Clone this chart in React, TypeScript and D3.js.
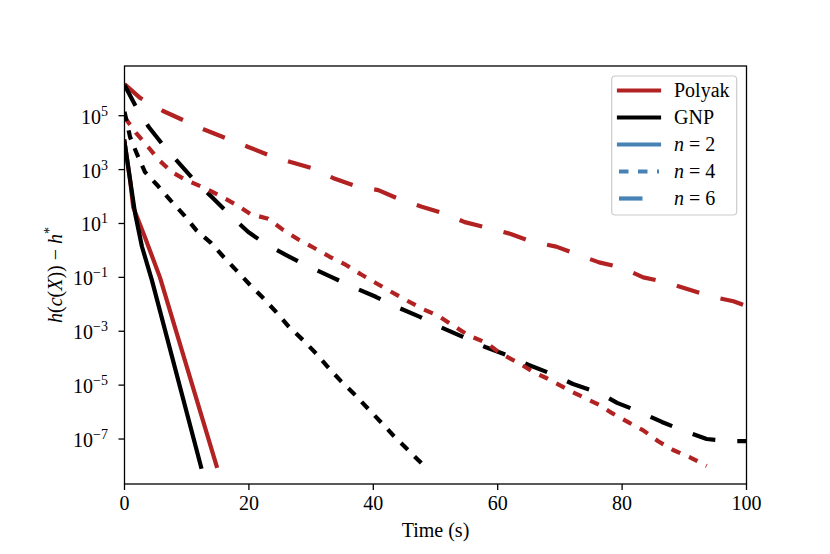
import React from 'react';
import * as d3 from 'd3';

// ---- Data (time in s, value of h(c(X)) - h*) ----
const polyak6T = [0, 2.5, 6.2, 9.4, 12.9, 16.2, 19.9, 23.1, 26.7, 30.3, 33.6, 37.1, 40.8, 44.2, 47.8, 51.3, 54.7, 58.3, 62.1, 65.5, 69.4, 72.7, 76.3, 79.9, 83.4, 87.0, 90.6, 94.1, 97.9, 100];
const polyak6V = [1.48e6, 4.6e5, 1.5e5, 6.9e4, 3.0e4, 1.5e4, 6.9e3, 3.5e3, 1.9e3, 1.1e3, 480, 245, 174, 79, 42, 24, 11.2, 6.9, 4.1, 2.1, 1.38, 0.72, 0.36, 0.23, 0.1, 0.066, 0.036, 0.020, 0.013, 0.0087];

const gnp6T = [0, 1.7, 3.9, 6.2, 8.8, 11.3, 14.2, 17.0, 19.9, 22.9, 26.3, 29.8, 33.4, 36.7, 40.4, 43.8, 47.5, 50.9, 54.4, 58.0, 61.5, 65.0, 68.7, 72.1, 76.4, 79.2, 82.9, 86.4, 89.9, 93.6, 97.5, 100];
const gnp6V = [1.38e6, 2.5e5, 3.8e4, 8.1e3, 1.7e3, 380, 89, 20, 4.8, 1.6, 0.62, 0.24, 0.10, 0.044, 0.019, 7.9e-3, 3.4e-3, 1.4e-3, 6.2e-4, 2.6e-4, 1.3e-4, 5.6e-5, 2.6e-5, 1.1e-5, 5.1e-6, 2.2e-6, 1.0e-6, 4.3e-7, 2.0e-7, 1.0e-7, 8.3e-8, 8.3e-8];

const polyak4T = [0, 1.85, 3.8, 5.5, 7.6, 9.9, 12.8, 15.4, 18.0, 20.3, 23.1, 25.5, 27.9, 30.5, 33.0, 35.6, 38.0, 40.4, 43.0, 45.6, 48.0, 50.2, 53.1, 55.2, 58.3, 60.4, 63.1, 65.7, 67.9, 72.0, 76.4, 78.4, 80.9, 83.4, 85.8, 88.2, 90.9, 93.6];
const polyak4V = [8.9e4, 2.3e4, 6.9e3, 2.3e3, 810, 410, 210, 105, 49, 22, 15, 5.8, 2.6, 1.23, 0.58, 0.29, 0.13, 0.062, 0.028, 0.013, 0.0066, 0.004, 1.5e-3, 7.2e-4, 3.6e-4, 1.5e-4, 7.2e-5, 3.1e-5, 1.8e-5, 5.6e-6, 1.8e-6, 9.1e-7, 4.3e-7, 2.1e-7, 8.3e-8, 3.9e-8, 2.1e-8, 1.0e-8];

const gnp4T = [0, 0.9, 2.0, 3.3, 5.4, 7.5, 9.6, 11.5, 13.9, 15.8, 18.1, 20.2, 22.3, 24.4, 26.4, 28.7, 30.8, 32.7, 34.8, 37.1, 39.2, 41.2, 43.3, 45.6, 48.0];
const gnp4V = [1.4e5, 1.6e4, 3.8e3, 810, 245, 68, 20, 5.8, 1.9, 0.62, 0.17, 0.052, 0.017, 5.1e-3, 1.5e-3, 4.7e-4, 1.5e-4, 4.7e-5, 1.4e-5, 4.3e-6, 1.3e-6, 4.3e-7, 1.3e-7, 3.9e-8, 1.1e-8];

const polyak2T = [0, 0.9, 1.4, 3.2, 5.7, 14.8];
const polyak2V = [1.1e4, 410, 40, 3.5, 0.1, 1.0e-8];

const gnp2T = [0, 0.9, 1.7, 2.8, 4.4, 12.3];
const gnp2V = [1.1e4, 410, 24, 1.4, 0.079, 9.3e-9];

const xTicks = [0, 20, 40, 60, 80, 100];
const yTickExps = [5, 3, 1, -1, -3, -5, -7];
const xLabel = 'Time (s)';
const legendMethods = ['Polyak', 'GNP'];
const legendSizes = ['2', '4', '6'];

const RED = '#b22222';
const BLACK = '#000000';
const BLUE = '#4682b4';
const FONT = '"Liberation Serif", "DejaVu Serif", serif';

const DASH: Record<string, string | undefined> = {
  '2': undefined,
  '4': '9.5,9.5',
  '6': '23.5,22',
};

export default function App() {
  const left = 124.5, right = 746.5, top = 66, bottom = 484;
  const x = d3.scaleLinear().domain([0, 100]).range([left, right]);
  const y = d3.scaleLog().domain([2.14e-9, 7.0e6]).range([bottom, top]);
  const line = d3
    .line<[number, number]>()
    .x((d) => x(d[0]))
    .y((d) => y(d[1]));

  const zip = (t: number[], v: number[]) => t.map((ti, i) => [ti, v[i]] as [number, number]);

  const series = [
    { key: 'p6', data: zip(polyak6T, polyak6V), color: RED, n: '6' },
    { key: 'g6', data: zip(gnp6T, gnp6V), color: BLACK, n: '6' },
    { key: 'p4', data: zip(polyak4T, polyak4V), color: RED, n: '4' },
    { key: 'g4', data: zip(gnp4T, gnp4V), color: BLACK, n: '4' },
    { key: 'p2', data: zip(polyak2T, polyak2V), color: RED, n: '2' },
    { key: 'g2', data: zip(gnp2T, gnp2V), color: BLACK, n: '2' },
  ];

  const lw = 4.2;
  const fs = 20;
  const sfs = 14;
  const legX = 611.7, legY = 76, legW = 125, legH = 139;
  const rowY = (i: number) => 90.5 + i * 27;
  const hx0 = 619, hx1 = 659;

  return (
    <svg
      width={830}
      height={554}
      style={{ position: 'absolute', left: 0, top: 0, background: '#fff' }}
      fontFamily={FONT}
    >
      <defs>
        <clipPath id="plotclip">
          <rect x={left} y={top} width={right - left} height={bottom - top} />
        </clipPath>
      </defs>
      <rect x={0} y={0} width={830} height={554} fill="#fff" />

      <g clipPath="url(#plotclip)">
        {series.map((s) => (
          <path
            key={s.key}
            d={line(s.data) || ''}
            fill="none"
            stroke={s.color}
            strokeWidth={lw}
            strokeDasharray={DASH[s.n]}
            strokeLinecap={DASH[s.n] ? 'butt' : 'square'}
            strokeLinejoin="round"
          />
        ))}
      </g>

      {/* frame */}
      <rect x={left} y={top} width={right - left} height={bottom - top} fill="none" stroke="#000" strokeWidth={1.3} />

      {/* x ticks */}
      {xTicks.map((t) => (
        <g key={'x' + t}>
          <line x1={x(t)} x2={x(t)} y1={bottom} y2={bottom + 6} stroke="#000" strokeWidth={1.3} />
          <text x={x(t)} y={bottom + 26} textAnchor="middle" fontSize={fs}>
            {t}
          </text>
        </g>
      ))}
      <text x={(left + right) / 2} y={537} textAnchor="middle" fontSize={fs}>
        {xLabel}
      </text>

      {/* y ticks */}
      {yTickExps.map((e) => {
        const yy = y(Math.pow(10, e));
        return (
          <g key={'y' + e}>
            <line x1={left - 6} x2={left} y1={yy} y2={yy} stroke="#000" strokeWidth={1.3} />
            <text x={108} y={yy + 8} textAnchor="end" fontSize={fs}>
              10
              <tspan dy={-8} fontSize={sfs}>
                {e < 0 ? '\u2212' + Math.abs(e) : String(e)}
              </tspan>
            </text>
          </g>
        );
      })}

      {/* y label */}
      <text
        transform={`translate(62, ${(top + bottom) / 2}) rotate(-90)`}
        textAnchor="middle"
        fontSize={fs}
      >
        <tspan fontStyle="italic">h</tspan>
        <tspan>(</tspan>
        <tspan fontStyle="italic">c</tspan>
        <tspan>(</tspan>
        <tspan fontStyle="italic">X</tspan>
        <tspan>{')) \u2212 '}</tspan>
        <tspan fontStyle="italic">h</tspan>
        <tspan dy={-8} fontSize={sfs}>*</tspan>
      </text>

      {/* legend */}
      <rect x={legX} y={legY} width={legW} height={legH} rx={3.5} fill="#fff" fillOpacity={0.8} stroke="#cccccc" strokeWidth={1.2} />
      {legendMethods.map((m, i) => (
        <g key={m}>
          <line x1={hx0} x2={hx1} y1={rowY(i)} y2={rowY(i)} stroke={i === 0 ? RED : BLACK} strokeWidth={lw} strokeLinecap="square" />
          <text x={674} y={rowY(i) + 6.5} fontSize={fs}>
            {m}
          </text>
        </g>
      ))}
      {legendSizes.map((n, j) => {
        const i = j + 2;
        return (
          <g key={'n' + n}>
            <line
              x1={hx0}
              x2={hx1}
              y1={rowY(i)}
              y2={rowY(i)}
              stroke={BLUE}
              strokeWidth={lw}
              strokeDasharray={DASH[n]}
              strokeLinecap={DASH[n] ? 'butt' : 'square'}
            />
            <text x={674} y={rowY(i) + 6.5} fontSize={fs}>
              <tspan fontStyle="italic">n</tspan>
              <tspan>{' = ' + n}</tspan>
            </text>
          </g>
        );
      })}
    </svg>
  );
}
